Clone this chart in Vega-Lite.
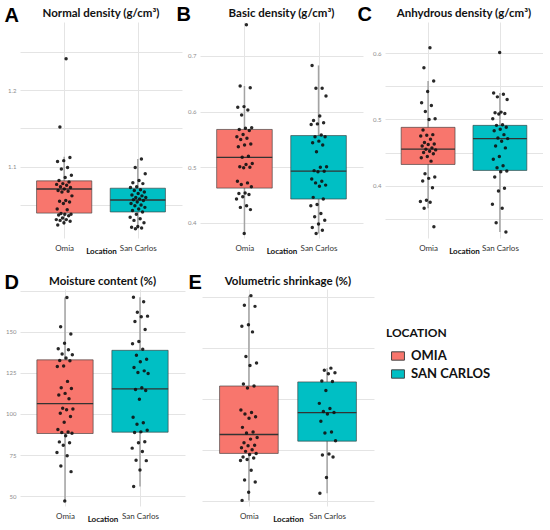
{
  "$schema": "https://vega.github.io/schema/vega-lite/v6.json",
  "background": "white",
  "padding": {"left": 4, "top": 4, "right": 0, "bottom": 0},
  "datasets": {
    "box": [
      {"p": "A", "loc": "Omia", "lo": 1.024, "q1": 1.0395, "med": 1.071, "q3": 1.0816, "hi": 1.113},
      {"p": "A", "loc": "San Carlos", "lo": 1.019, "q1": 1.041, "med": 1.0566, "q3": 1.072, "hi": 1.110},
      {"p": "B", "loc": "Omia", "lo": 0.381, "q1": 0.4626, "med": 0.518, "q3": 0.568, "hi": 0.646},
      {"p": "B", "loc": "San Carlos", "lo": 0.381, "q1": 0.443, "med": 0.493, "q3": 0.557, "hi": 0.683},
      {"p": "C", "loc": "Omia", "lo": 0.366, "q1": 0.432, "med": 0.455, "q3": 0.488, "hi": 0.558},
      {"p": "C", "loc": "San Carlos", "lo": 0.330, "q1": 0.423, "med": 0.471, "q3": 0.491, "hi": 0.540},
      {"p": "D", "loc": "Omia", "lo": 47, "q1": 88.1, "med": 106.3, "q3": 132.9, "hi": 170.8},
      {"p": "D", "loc": "San Carlos", "lo": 55.8, "q1": 88.9, "med": 115.3, "q3": 138.7, "hi": 171},
      {"p": "E", "loc": "Omia", "lo": 5.1, "q1": 14.3, "med": 18.0, "q3": 27.5, "hi": 45.2},
      {"p": "E", "loc": "San Carlos", "lo": 6.5, "q1": 16.7, "med": 22.3, "q3": 28.3, "hi": 31}
    ],
    "pts": [
      {"p":"A","loc":"Omia","v":1.241},{"p":"A","loc":"Omia","v":1.152},{"p":"A","loc":"Omia","v":1.112},{"p":"A","loc":"Omia","v":1.108},{"p":"A","loc":"Omia","v":1.107},{"p":"A","loc":"Omia","v":1.099},{"p":"A","loc":"Omia","v":1.097},{"p":"A","loc":"Omia","v":1.089},{"p":"A","loc":"Omia","v":1.086},{"p":"A","loc":"Omia","v":1.082},{"p":"A","loc":"Omia","v":1.080},{"p":"A","loc":"Omia","v":1.078},{"p":"A","loc":"Omia","v":1.077},{"p":"A","loc":"Omia","v":1.076},{"p":"A","loc":"Omia","v":1.074},{"p":"A","loc":"Omia","v":1.073},{"p":"A","loc":"Omia","v":1.071},{"p":"A","loc":"Omia","v":1.069},{"p":"A","loc":"Omia","v":1.068},{"p":"A","loc":"Omia","v":1.067},{"p":"A","loc":"Omia","v":1.062},{"p":"A","loc":"Omia","v":1.056},{"p":"A","loc":"Omia","v":1.055},{"p":"A","loc":"Omia","v":1.054},{"p":"A","loc":"Omia","v":1.052},{"p":"A","loc":"Omia","v":1.045},{"p":"A","loc":"Omia","v":1.044},{"p":"A","loc":"Omia","v":1.039},{"p":"A","loc":"Omia","v":1.038},{"p":"A","loc":"Omia","v":1.038},{"p":"A","loc":"Omia","v":1.037},{"p":"A","loc":"Omia","v":1.036},{"p":"A","loc":"Omia","v":1.033},{"p":"A","loc":"Omia","v":1.031},{"p":"A","loc":"Omia","v":1.031},{"p":"A","loc":"Omia","v":1.030},{"p":"A","loc":"Omia","v":1.029},{"p":"A","loc":"Omia","v":1.027},{"p":"A","loc":"Omia","v":1.024},
      {"p":"A","loc":"San Carlos","v":1.110},{"p":"A","loc":"San Carlos","v":1.099},{"p":"A","loc":"San Carlos","v":1.091},{"p":"A","loc":"San Carlos","v":1.082},{"p":"A","loc":"San Carlos","v":1.079},{"p":"A","loc":"San Carlos","v":1.078},{"p":"A","loc":"San Carlos","v":1.074},{"p":"A","loc":"San Carlos","v":1.073},{"p":"A","loc":"San Carlos","v":1.070},{"p":"A","loc":"San Carlos","v":1.069},{"p":"A","loc":"San Carlos","v":1.067},{"p":"A","loc":"San Carlos","v":1.065},{"p":"A","loc":"San Carlos","v":1.063},{"p":"A","loc":"San Carlos","v":1.062},{"p":"A","loc":"San Carlos","v":1.060},{"p":"A","loc":"San Carlos","v":1.060},{"p":"A","loc":"San Carlos","v":1.058},{"p":"A","loc":"San Carlos","v":1.057},{"p":"A","loc":"San Carlos","v":1.056},{"p":"A","loc":"San Carlos","v":1.054},{"p":"A","loc":"San Carlos","v":1.052},{"p":"A","loc":"San Carlos","v":1.050},{"p":"A","loc":"San Carlos","v":1.049},{"p":"A","loc":"San Carlos","v":1.047},{"p":"A","loc":"San Carlos","v":1.045},{"p":"A","loc":"San Carlos","v":1.043},{"p":"A","loc":"San Carlos","v":1.041},{"p":"A","loc":"San Carlos","v":1.038},{"p":"A","loc":"San Carlos","v":1.034},{"p":"A","loc":"San Carlos","v":1.032},{"p":"A","loc":"San Carlos","v":1.030},{"p":"A","loc":"San Carlos","v":1.027},{"p":"A","loc":"San Carlos","v":1.022},{"p":"A","loc":"San Carlos","v":1.021},{"p":"A","loc":"San Carlos","v":1.020},{"p":"A","loc":"San Carlos","v":1.019},
      {"p":"B","loc":"Omia","v":0.756},{"p":"B","loc":"Omia","v":0.646},{"p":"B","loc":"Omia","v":0.643},{"p":"B","loc":"Omia","v":0.609},{"p":"B","loc":"Omia","v":0.608},{"p":"B","loc":"Omia","v":0.603},{"p":"B","loc":"Omia","v":0.594},{"p":"B","loc":"Omia","v":0.571},{"p":"B","loc":"Omia","v":0.570},{"p":"B","loc":"Omia","v":0.568},{"p":"B","loc":"Omia","v":0.566},{"p":"B","loc":"Omia","v":0.559},{"p":"B","loc":"Omia","v":0.555},{"p":"B","loc":"Omia","v":0.552},{"p":"B","loc":"Omia","v":0.550},{"p":"B","loc":"Omia","v":0.542},{"p":"B","loc":"Omia","v":0.540},{"p":"B","loc":"Omia","v":0.537},{"p":"B","loc":"Omia","v":0.520},{"p":"B","loc":"Omia","v":0.518},{"p":"B","loc":"Omia","v":0.507},{"p":"B","loc":"Omia","v":0.505},{"p":"B","loc":"Omia","v":0.501},{"p":"B","loc":"Omia","v":0.500},{"p":"B","loc":"Omia","v":0.499},{"p":"B","loc":"Omia","v":0.475},{"p":"B","loc":"Omia","v":0.472},{"p":"B","loc":"Omia","v":0.469},{"p":"B","loc":"Omia","v":0.465},{"p":"B","loc":"Omia","v":0.454},{"p":"B","loc":"Omia","v":0.453},{"p":"B","loc":"Omia","v":0.451},{"p":"B","loc":"Omia","v":0.447},{"p":"B","loc":"Omia","v":0.443},{"p":"B","loc":"Omia","v":0.431},{"p":"B","loc":"Omia","v":0.428},{"p":"B","loc":"Omia","v":0.424},{"p":"B","loc":"Omia","v":0.381},
      {"p":"B","loc":"San Carlos","v":0.683},{"p":"B","loc":"San Carlos","v":0.642},{"p":"B","loc":"San Carlos","v":0.642},{"p":"B","loc":"San Carlos","v":0.628},{"p":"B","loc":"San Carlos","v":0.592},{"p":"B","loc":"San Carlos","v":0.584},{"p":"B","loc":"San Carlos","v":0.580},{"p":"B","loc":"San Carlos","v":0.578},{"p":"B","loc":"San Carlos","v":0.577},{"p":"B","loc":"San Carlos","v":0.558},{"p":"B","loc":"San Carlos","v":0.555},{"p":"B","loc":"San Carlos","v":0.555},{"p":"B","loc":"San Carlos","v":0.547},{"p":"B","loc":"San Carlos","v":0.544},{"p":"B","loc":"San Carlos","v":0.540},{"p":"B","loc":"San Carlos","v":0.528},{"p":"B","loc":"San Carlos","v":0.501},{"p":"B","loc":"San Carlos","v":0.500},{"p":"B","loc":"San Carlos","v":0.494},{"p":"B","loc":"San Carlos","v":0.493},{"p":"B","loc":"San Carlos","v":0.492},{"p":"B","loc":"San Carlos","v":0.479},{"p":"B","loc":"San Carlos","v":0.475},{"p":"B","loc":"San Carlos","v":0.472},{"p":"B","loc":"San Carlos","v":0.468},{"p":"B","loc":"San Carlos","v":0.466},{"p":"B","loc":"San Carlos","v":0.446},{"p":"B","loc":"San Carlos","v":0.443},{"p":"B","loc":"San Carlos","v":0.433},{"p":"B","loc":"San Carlos","v":0.431},{"p":"B","loc":"San Carlos","v":0.417},{"p":"B","loc":"San Carlos","v":0.411},{"p":"B","loc":"San Carlos","v":0.405},{"p":"B","loc":"San Carlos","v":0.398},{"p":"B","loc":"San Carlos","v":0.392},{"p":"B","loc":"San Carlos","v":0.387},{"p":"B","loc":"San Carlos","v":0.381},
      {"p":"C","loc":"Omia","v":0.608},{"p":"C","loc":"Omia","v":0.578},{"p":"C","loc":"Omia","v":0.558},{"p":"C","loc":"Omia","v":0.542},{"p":"C","loc":"Omia","v":0.525},{"p":"C","loc":"Omia","v":0.521},{"p":"C","loc":"Omia","v":0.512},{"p":"C","loc":"Omia","v":0.501},{"p":"C","loc":"Omia","v":0.500},{"p":"C","loc":"Omia","v":0.484},{"p":"C","loc":"Omia","v":0.477},{"p":"C","loc":"Omia","v":0.476},{"p":"C","loc":"Omia","v":0.475},{"p":"C","loc":"Omia","v":0.470},{"p":"C","loc":"Omia","v":0.465},{"p":"C","loc":"Omia","v":0.463},{"p":"C","loc":"Omia","v":0.462},{"p":"C","loc":"Omia","v":0.460},{"p":"C","loc":"Omia","v":0.457},{"p":"C","loc":"Omia","v":0.455},{"p":"C","loc":"Omia","v":0.454},{"p":"C","loc":"Omia","v":0.452},{"p":"C","loc":"Omia","v":0.450},{"p":"C","loc":"Omia","v":0.448},{"p":"C","loc":"Omia","v":0.444},{"p":"C","loc":"Omia","v":0.442},{"p":"C","loc":"Omia","v":0.437},{"p":"C","loc":"Omia","v":0.418},{"p":"C","loc":"Omia","v":0.413},{"p":"C","loc":"Omia","v":0.411},{"p":"C","loc":"Omia","v":0.407},{"p":"C","loc":"Omia","v":0.397},{"p":"C","loc":"Omia","v":0.378},{"p":"C","loc":"Omia","v":0.376},{"p":"C","loc":"Omia","v":0.375},{"p":"C","loc":"Omia","v":0.366},{"p":"C","loc":"Omia","v":0.338},
      {"p":"C","loc":"San Carlos","v":0.601},{"p":"C","loc":"San Carlos","v":0.540},{"p":"C","loc":"San Carlos","v":0.538},{"p":"C","loc":"San Carlos","v":0.534},{"p":"C","loc":"San Carlos","v":0.530},{"p":"C","loc":"San Carlos","v":0.511},{"p":"C","loc":"San Carlos","v":0.510},{"p":"C","loc":"San Carlos","v":0.509},{"p":"C","loc":"San Carlos","v":0.508},{"p":"C","loc":"San Carlos","v":0.501},{"p":"C","loc":"San Carlos","v":0.492},{"p":"C","loc":"San Carlos","v":0.491},{"p":"C","loc":"San Carlos","v":0.488},{"p":"C","loc":"San Carlos","v":0.485},{"p":"C","loc":"San Carlos","v":0.483},{"p":"C","loc":"San Carlos","v":0.477},{"p":"C","loc":"San Carlos","v":0.472},{"p":"C","loc":"San Carlos","v":0.471},{"p":"C","loc":"San Carlos","v":0.467},{"p":"C","loc":"San Carlos","v":0.460},{"p":"C","loc":"San Carlos","v":0.457},{"p":"C","loc":"San Carlos","v":0.444},{"p":"C","loc":"San Carlos","v":0.440},{"p":"C","loc":"San Carlos","v":0.430},{"p":"C","loc":"San Carlos","v":0.427},{"p":"C","loc":"San Carlos","v":0.422},{"p":"C","loc":"San Carlos","v":0.421},{"p":"C","loc":"San Carlos","v":0.413},{"p":"C","loc":"San Carlos","v":0.396},{"p":"C","loc":"San Carlos","v":0.392},{"p":"C","loc":"San Carlos","v":0.372},{"p":"C","loc":"San Carlos","v":0.366},{"p":"C","loc":"San Carlos","v":0.344},{"p":"C","loc":"San Carlos","v":0.330},
      {"p":"D","loc":"Omia","v":170.8},{"p":"D","loc":"Omia","v":153},{"p":"D","loc":"Omia","v":148.6},{"p":"D","loc":"Omia","v":143},{"p":"D","loc":"Omia","v":139.7},{"p":"D","loc":"Omia","v":139},{"p":"D","loc":"Omia","v":136.5},{"p":"D","loc":"Omia","v":136},{"p":"D","loc":"Omia","v":134},{"p":"D","loc":"Omia","v":132.5},{"p":"D","loc":"Omia","v":132.3},{"p":"D","loc":"Omia","v":129.2},{"p":"D","loc":"Omia","v":128.8},{"p":"D","loc":"Omia","v":119.8},{"p":"D","loc":"Omia","v":115.9},{"p":"D","loc":"Omia","v":115.5},{"p":"D","loc":"Omia","v":112.5},{"p":"D","loc":"Omia","v":111.5},{"p":"D","loc":"Omia","v":109.3},{"p":"D","loc":"Omia","v":103.4},{"p":"D","loc":"Omia","v":103},{"p":"D","loc":"Omia","v":102.6},{"p":"D","loc":"Omia","v":100.4},{"p":"D","loc":"Omia","v":98.4},{"p":"D","loc":"Omia","v":95},{"p":"D","loc":"Omia","v":90.5},{"p":"D","loc":"Omia","v":89},{"p":"D","loc":"Omia","v":88.7},{"p":"D","loc":"Omia","v":88.3},{"p":"D","loc":"Omia","v":86.7},{"p":"D","loc":"Omia","v":83},{"p":"D","loc":"Omia","v":82.5},{"p":"D","loc":"Omia","v":81},{"p":"D","loc":"Omia","v":76.6},{"p":"D","loc":"Omia","v":74.6},{"p":"D","loc":"Omia","v":68.3},{"p":"D","loc":"Omia","v":64.9},{"p":"D","loc":"Omia","v":47},
      {"p":"D","loc":"San Carlos","v":171},{"p":"D","loc":"San Carlos","v":168.3},{"p":"D","loc":"San Carlos","v":161.9},{"p":"D","loc":"San Carlos","v":159.5},{"p":"D","loc":"San Carlos","v":159.1},{"p":"D","loc":"San Carlos","v":156.2},{"p":"D","loc":"San Carlos","v":151.4},{"p":"D","loc":"San Carlos","v":144},{"p":"D","loc":"San Carlos","v":142.7},{"p":"D","loc":"San Carlos","v":139.3},{"p":"D","loc":"San Carlos","v":135.7},{"p":"D","loc":"San Carlos","v":133.3},{"p":"D","loc":"San Carlos","v":131.7},{"p":"D","loc":"San Carlos","v":128.3},{"p":"D","loc":"San Carlos","v":126.2},{"p":"D","loc":"San Carlos","v":125.2},{"p":"D","loc":"San Carlos","v":124.6},{"p":"D","loc":"San Carlos","v":115.9},{"p":"D","loc":"San Carlos","v":114.9},{"p":"D","loc":"San Carlos","v":114.3},{"p":"D","loc":"San Carlos","v":108.9},{"p":"D","loc":"San Carlos","v":98},{"p":"D","loc":"San Carlos","v":94.6},{"p":"D","loc":"San Carlos","v":93.7},{"p":"D","loc":"San Carlos","v":90.1},{"p":"D","loc":"San Carlos","v":89.1},{"p":"D","loc":"San Carlos","v":88.7},{"p":"D","loc":"San Carlos","v":83.1},{"p":"D","loc":"San Carlos","v":82.5},{"p":"D","loc":"San Carlos","v":79.2},{"p":"D","loc":"San Carlos","v":77.2},{"p":"D","loc":"San Carlos","v":71.8},{"p":"D","loc":"San Carlos","v":71.6},{"p":"D","loc":"San Carlos","v":65.9},{"p":"D","loc":"San Carlos","v":55.8},
      {"p":"E","loc":"Omia","v":45.2},{"p":"E","loc":"Omia","v":43.3},{"p":"E","loc":"Omia","v":43.1},{"p":"E","loc":"Omia","v":39.5},{"p":"E","loc":"Omia","v":39.2},{"p":"E","loc":"Omia","v":38.1},{"p":"E","loc":"Omia","v":33.3},{"p":"E","loc":"Omia","v":32},{"p":"E","loc":"Omia","v":31.5},{"p":"E","loc":"Omia","v":27.9},{"p":"E","loc":"Omia","v":27.5},{"p":"E","loc":"Omia","v":27.1},{"p":"E","loc":"Omia","v":22.8},{"p":"E","loc":"Omia","v":22.3},{"p":"E","loc":"Omia","v":22},{"p":"E","loc":"Omia","v":21.5},{"p":"E","loc":"Omia","v":21.2},{"p":"E","loc":"Omia","v":19.4},{"p":"E","loc":"Omia","v":18.5},{"p":"E","loc":"Omia","v":18.3},{"p":"E","loc":"Omia","v":17.4},{"p":"E","loc":"Omia","v":17.1},{"p":"E","loc":"Omia","v":16.4},{"p":"E","loc":"Omia","v":15.9},{"p":"E","loc":"Omia","v":15.8},{"p":"E","loc":"Omia","v":15.4},{"p":"E","loc":"Omia","v":15},{"p":"E","loc":"Omia","v":14.7},{"p":"E","loc":"Omia","v":14.3},{"p":"E","loc":"Omia","v":14.1},{"p":"E","loc":"Omia","v":13.6},{"p":"E","loc":"Omia","v":13.4},{"p":"E","loc":"Omia","v":13.1},{"p":"E","loc":"Omia","v":12.9},{"p":"E","loc":"Omia","v":11},{"p":"E","loc":"Omia","v":9.1},{"p":"E","loc":"Omia","v":8.7},{"p":"E","loc":"Omia","v":6.7},{"p":"E","loc":"Omia","v":5.1},
      {"p":"E","loc":"San Carlos","v":31},{"p":"E","loc":"San Carlos","v":30.6},{"p":"E","loc":"San Carlos","v":30.1},{"p":"E","loc":"San Carlos","v":29.9},{"p":"E","loc":"San Carlos","v":28.5},{"p":"E","loc":"San Carlos","v":28.4},{"p":"E","loc":"San Carlos","v":26.6},{"p":"E","loc":"San Carlos","v":24.1},{"p":"E","loc":"San Carlos","v":23.1},{"p":"E","loc":"San Carlos","v":22.5},{"p":"E","loc":"San Carlos","v":22.3},{"p":"E","loc":"San Carlos","v":22},{"p":"E","loc":"San Carlos","v":20.6},{"p":"E","loc":"San Carlos","v":18.5},{"p":"E","loc":"San Carlos","v":18.3},{"p":"E","loc":"San Carlos","v":16.8},{"p":"E","loc":"San Carlos","v":14.2},{"p":"E","loc":"San Carlos","v":14},{"p":"E","loc":"San Carlos","v":13.6},{"p":"E","loc":"San Carlos","v":9.6},{"p":"E","loc":"San Carlos","v":6.5}
    ]
  },
  "config": {
    "view": {"stroke": null},
    "font": "Lato",
    "title": {"fontSize": 11.5, "fontWeight": "bold", "font": "Lato", "color": "#111111"},
    "axis": {"grid": true, "gridColor": "#e4e4e4", "gridWidth": 1, "domain": false, "ticks": false},
    "axisY": {"labelFontSize": 6, "labelColor": "#8c8c8c", "labelPadding": 4, "titleAngle": 0, "titleFont": "Liberation Sans", "titleFontSize": 20, "titleFontWeight": "bold", "titleColor": "#000000", "titleAlign": "left", "titleBaseline": "top"},
    "axisX": {"labelFontSize": 8, "labelColor": "#333333", "labelPadding": 6, "titleFontSize": 8, "titleFontWeight": "bold", "titleColor": "#111111", "titleBaseline": "top", "titleY": 9},
    "legend": {"orient": "none", "legendX": 366, "legendY": 306, "padding": 0, "titleFontSize": 12, "titleFontWeight": "bold", "titleColor": "#111111", "titlePadding": 9, "labelFontSize": 13, "labelFontWeight": "bold", "labelColor": "#111111", "labelOffset": 6, "symbolType": "M-1,-0.65H1V0.65H-1Z", "symbolSize": 166, "symbolStrokeColor": "#444444", "symbolStrokeWidth": 1, "symbolOpacity": 1, "symbolOffset": 5, "rowPadding": 4}
  },
  "vconcat": [
    {
      "spacing": -6,
      "hconcat": [
        {
          "width": 162, "height": 216,
          "title": {"text": "Normal density (g/cm³)", "offset": -14},
          "layer": [
            {"data": {"name": "box"}, "transform": [{"filter": "datum.p == 'A'"}, {"calculate": "datum.loc == 'Omia' ? 1 : 2", "as": "pos"}],
             "mark": {"type": "rule", "color": "#a3a3a3", "strokeWidth": 1.5},
             "encoding": {
               "x": {"field": "pos", "type": "quantitative", "scale": {"domain": [0.4, 2.6], "nice": false, "zero": false}, "axis": {"values": [1, 2], "labelExpr": "datum.value == 1 ? 'Omia' : 'San Carlos'", "title": "Location"}},
               "y": {"field": "lo", "type": "quantitative", "scale": {"domain": [1.007, 1.289], "nice": false, "zero": false}, "axis": {"title": "A", "titleX": -16, "titleY": -17, "values": [1.05, 1.1, 1.15, 1.2, 1.25], "labelExpr": "indexof([1.1, 1.2], datum.value) >= 0 ? format(datum.value, '.1f') : ''"}},
               "y2": {"field": "hi"}}},
            {"data": {"name": "box"}, "transform": [{"filter": "datum.p == 'A'"}, {"calculate": "(datum.loc == 'Omia' ? 1 : 2) - 0.375", "as": "xa"}, {"calculate": "(datum.loc == 'Omia' ? 1 : 2) + 0.375", "as": "xb"}],
             "mark": {"type": "rect", "stroke": "#3c3c3c", "strokeWidth": 0.8, "strokeOpacity": 0.8, "opacity": 1},
             "encoding": {
               "x": {"field": "xa", "type": "quantitative", "scale": {"domain": [0.4, 2.6], "nice": false, "zero": false}},
               "x2": {"field": "xb"},
               "y": {"field": "q1", "type": "quantitative", "scale": {"domain": [1.007, 1.289], "nice": false, "zero": false}},
               "y2": {"field": "q3"},
               "color": {"field": "loc", "type": "nominal", "title": "LOCATION", "scale": {"domain": ["Omia", "San Carlos"], "range": ["#F8766D", "#00BFC4"]}, "legend": {"labelExpr": "upper(datum.label)"}}}},
            {"data": {"name": "box"}, "transform": [{"filter": "datum.p == 'A'"}, {"calculate": "(datum.loc == 'Omia' ? 1 : 2) - 0.375", "as": "xa"}, {"calculate": "(datum.loc == 'Omia' ? 1 : 2) + 0.375", "as": "xb"}],
             "mark": {"type": "rule", "color": "#333333", "strokeWidth": 1.3},
             "encoding": {
               "x": {"field": "xa", "type": "quantitative", "scale": {"domain": [0.4, 2.6], "nice": false, "zero": false}},
               "x2": {"field": "xb"},
               "y": {"field": "med", "type": "quantitative", "scale": {"domain": [1.007, 1.289], "nice": false, "zero": false}}}},
            {"data": {"name": "pts"}, "transform": [{"filter": "datum.p == 'A'"}, {"window": [{"op": "row_number", "as": "rn"}]}, {"calculate": "(datum.loc == 'Omia' ? 1 : 2) + ((datum.rn * 0.6180339887) % 1 - 0.5) * 0.22", "as": "jx"}],
             "mark": {"type": "circle", "size": 12, "color": "#111111", "opacity": 0.9},
             "encoding": {
               "x": {"field": "jx", "type": "quantitative", "scale": {"domain": [0.4, 2.6], "nice": false, "zero": false}},
               "y": {"field": "v", "type": "quantitative", "scale": {"domain": [1.007, 1.289], "nice": false, "zero": false}}}}
          ]
        },
        {
          "width": 163, "height": 216,
          "title": {"text": "Basic density (g/cm³)", "offset": -15},
          "layer": [
            {"data": {"name": "box"}, "transform": [{"filter": "datum.p == 'B'"}, {"calculate": "datum.loc == 'Omia' ? 1 : 2", "as": "pos"}],
             "mark": {"type": "rule", "color": "#a3a3a3", "strokeWidth": 1.5},
             "encoding": {
               "x": {"field": "pos", "type": "quantitative", "scale": {"domain": [0.4, 2.6], "nice": false, "zero": false}, "axis": {"values": [1, 2], "labelExpr": "datum.value == 1 ? 'Omia' : 'San Carlos'", "title": "Location"}},
               "y": {"field": "lo", "type": "quantitative", "scale": {"domain": [0.373, 0.761], "nice": false, "zero": false}, "axis": {"title": "B", "titleX": -24, "titleY": -18, "values": [0.4, 0.45, 0.5, 0.55, 0.6, 0.65, 0.7, 0.75], "labelExpr": "indexof([0.4, 0.5, 0.6, 0.7], datum.value) >= 0 ? format(datum.value, '.1f') : ''"}},
               "y2": {"field": "hi"}}},
            {"data": {"name": "box"}, "transform": [{"filter": "datum.p == 'B'"}, {"calculate": "(datum.loc == 'Omia' ? 1 : 2) - 0.375", "as": "xa"}, {"calculate": "(datum.loc == 'Omia' ? 1 : 2) + 0.375", "as": "xb"}],
             "mark": {"type": "rect", "stroke": "#3c3c3c", "strokeWidth": 0.8, "strokeOpacity": 0.8, "opacity": 1},
             "encoding": {
               "x": {"field": "xa", "type": "quantitative", "scale": {"domain": [0.4, 2.6], "nice": false, "zero": false}},
               "x2": {"field": "xb"},
               "y": {"field": "q1", "type": "quantitative", "scale": {"domain": [0.373, 0.761], "nice": false, "zero": false}},
               "y2": {"field": "q3"},
               "color": {"field": "loc", "type": "nominal", "title": "LOCATION", "scale": {"domain": ["Omia", "San Carlos"], "range": ["#F8766D", "#00BFC4"]}, "legend": {"labelExpr": "upper(datum.label)"}}}},
            {"data": {"name": "box"}, "transform": [{"filter": "datum.p == 'B'"}, {"calculate": "(datum.loc == 'Omia' ? 1 : 2) - 0.375", "as": "xa"}, {"calculate": "(datum.loc == 'Omia' ? 1 : 2) + 0.375", "as": "xb"}],
             "mark": {"type": "rule", "color": "#333333", "strokeWidth": 1.3},
             "encoding": {
               "x": {"field": "xa", "type": "quantitative", "scale": {"domain": [0.4, 2.6], "nice": false, "zero": false}},
               "x2": {"field": "xb"},
               "y": {"field": "med", "type": "quantitative", "scale": {"domain": [0.373, 0.761], "nice": false, "zero": false}}}},
            {"data": {"name": "pts"}, "transform": [{"filter": "datum.p == 'B'"}, {"window": [{"op": "row_number", "as": "rn"}]}, {"calculate": "(datum.loc == 'Omia' ? 1 : 2) + ((datum.rn * 0.6180339887) % 1 - 0.5) * 0.22", "as": "jx"}],
             "mark": {"type": "circle", "size": 12, "color": "#111111", "opacity": 0.9},
             "encoding": {
               "x": {"field": "jx", "type": "quantitative", "scale": {"domain": [0.4, 2.6], "nice": false, "zero": false}},
               "y": {"field": "v", "type": "quantitative", "scale": {"domain": [0.373, 0.761], "nice": false, "zero": false}}}}
          ]
        },
        {
          "width": 158, "height": 216,
          "title": {"text": "Anhydrous density (g/cm³)", "offset": -15},
          "layer": [
            {"data": {"name": "box"}, "transform": [{"filter": "datum.p == 'C'"}, {"calculate": "datum.loc == 'Omia' ? 1 : 2", "as": "pos"}],
             "mark": {"type": "rule", "color": "#a3a3a3", "strokeWidth": 1.5},
             "encoding": {
               "x": {"field": "pos", "type": "quantitative", "scale": {"domain": [0.4, 2.6], "nice": false, "zero": false}, "axis": {"values": [1, 2], "labelExpr": "datum.value == 1 ? 'Omia' : 'San Carlos'", "title": "Location"}},
               "y": {"field": "lo", "type": "quantitative", "scale": {"domain": [0.321, 0.647], "nice": false, "zero": false}, "axis": {"title": "C", "titleX": -28, "titleY": -18, "values": [0.35, 0.4, 0.45, 0.5, 0.55, 0.6], "labelExpr": "indexof([0.4, 0.5, 0.6], datum.value) >= 0 ? format(datum.value, '.1f') : ''"}},
               "y2": {"field": "hi"}}},
            {"data": {"name": "box"}, "transform": [{"filter": "datum.p == 'C'"}, {"calculate": "(datum.loc == 'Omia' ? 1 : 2) - 0.375", "as": "xa"}, {"calculate": "(datum.loc == 'Omia' ? 1 : 2) + 0.375", "as": "xb"}],
             "mark": {"type": "rect", "stroke": "#3c3c3c", "strokeWidth": 0.8, "strokeOpacity": 0.8, "opacity": 1},
             "encoding": {
               "x": {"field": "xa", "type": "quantitative", "scale": {"domain": [0.4, 2.6], "nice": false, "zero": false}},
               "x2": {"field": "xb"},
               "y": {"field": "q1", "type": "quantitative", "scale": {"domain": [0.321, 0.647], "nice": false, "zero": false}},
               "y2": {"field": "q3"},
               "color": {"field": "loc", "type": "nominal", "title": "LOCATION", "scale": {"domain": ["Omia", "San Carlos"], "range": ["#F8766D", "#00BFC4"]}, "legend": {"labelExpr": "upper(datum.label)"}}}},
            {"data": {"name": "box"}, "transform": [{"filter": "datum.p == 'C'"}, {"calculate": "(datum.loc == 'Omia' ? 1 : 2) - 0.375", "as": "xa"}, {"calculate": "(datum.loc == 'Omia' ? 1 : 2) + 0.375", "as": "xb"}],
             "mark": {"type": "rule", "color": "#333333", "strokeWidth": 1.3},
             "encoding": {
               "x": {"field": "xa", "type": "quantitative", "scale": {"domain": [0.4, 2.6], "nice": false, "zero": false}},
               "x2": {"field": "xb"},
               "y": {"field": "med", "type": "quantitative", "scale": {"domain": [0.321, 0.647], "nice": false, "zero": false}}}},
            {"data": {"name": "pts"}, "transform": [{"filter": "datum.p == 'C'"}, {"window": [{"op": "row_number", "as": "rn"}]}, {"calculate": "(datum.loc == 'Omia' ? 1 : 2) + ((datum.rn * 0.6180339887) % 1 - 0.5) * 0.22", "as": "jx"}],
             "mark": {"type": "circle", "size": 12, "color": "#111111", "opacity": 0.9},
             "encoding": {
               "x": {"field": "jx", "type": "quantitative", "scale": {"domain": [0.4, 2.6], "nice": false, "zero": false}},
               "y": {"field": "v", "type": "quantitative", "scale": {"domain": [0.321, 0.647], "nice": false, "zero": false}}}}
          ]
        }
      ]
    },
    {
      "spacing": 3,
      "hconcat": [
        {
          "width": 165, "height": 217,
          "title": {"text": "Moisture content (%)", "offset": -15},
          "layer": [
            {"data": {"name": "box"}, "transform": [{"filter": "datum.p == 'D'"}, {"calculate": "datum.loc == 'Omia' ? 1 : 2", "as": "pos"}],
             "mark": {"type": "rule", "color": "#a3a3a3", "strokeWidth": 1.5},
             "encoding": {
               "x": {"field": "pos", "type": "quantitative", "scale": {"domain": [0.4, 2.6], "nice": false, "zero": false}, "axis": {"values": [1, 2], "labelExpr": "datum.value == 1 ? 'Omia' : 'San Carlos'", "title": "Location"}},
               "y": {"field": "lo", "type": "quantitative", "scale": {"domain": [44, 176], "nice": false, "zero": false}, "axis": {"title": "D", "titleX": -16, "titleY": -17, "values": [50, 62.5, 75, 87.5, 100, 112.5, 125, 137.5, 150, 162.5, 175], "labelExpr": "indexof([50, 75, 100, 125, 150], datum.value) >= 0 ? format(datum.value, 'd') : ''"}},
               "y2": {"field": "hi"}}},
            {"data": {"name": "box"}, "transform": [{"filter": "datum.p == 'D'"}, {"calculate": "(datum.loc == 'Omia' ? 1 : 2) - 0.375", "as": "xa"}, {"calculate": "(datum.loc == 'Omia' ? 1 : 2) + 0.375", "as": "xb"}],
             "mark": {"type": "rect", "stroke": "#3c3c3c", "strokeWidth": 0.8, "strokeOpacity": 0.8, "opacity": 1},
             "encoding": {
               "x": {"field": "xa", "type": "quantitative", "scale": {"domain": [0.4, 2.6], "nice": false, "zero": false}},
               "x2": {"field": "xb"},
               "y": {"field": "q1", "type": "quantitative", "scale": {"domain": [44, 176], "nice": false, "zero": false}},
               "y2": {"field": "q3"},
               "color": {"field": "loc", "type": "nominal", "title": "LOCATION", "scale": {"domain": ["Omia", "San Carlos"], "range": ["#F8766D", "#00BFC4"]}, "legend": {"labelExpr": "upper(datum.label)"}}}},
            {"data": {"name": "box"}, "transform": [{"filter": "datum.p == 'D'"}, {"calculate": "(datum.loc == 'Omia' ? 1 : 2) - 0.375", "as": "xa"}, {"calculate": "(datum.loc == 'Omia' ? 1 : 2) + 0.375", "as": "xb"}],
             "mark": {"type": "rule", "color": "#333333", "strokeWidth": 1.3},
             "encoding": {
               "x": {"field": "xa", "type": "quantitative", "scale": {"domain": [0.4, 2.6], "nice": false, "zero": false}},
               "x2": {"field": "xb"},
               "y": {"field": "med", "type": "quantitative", "scale": {"domain": [44, 176], "nice": false, "zero": false}}}},
            {"data": {"name": "pts"}, "transform": [{"filter": "datum.p == 'D'"}, {"window": [{"op": "row_number", "as": "rn"}]}, {"calculate": "(datum.loc == 'Omia' ? 1 : 2) + ((datum.rn * 0.6180339887) % 1 - 0.5) * 0.22", "as": "jx"}],
             "mark": {"type": "circle", "size": 12, "color": "#111111", "opacity": 0.9},
             "encoding": {
               "x": {"field": "jx", "type": "quantitative", "scale": {"domain": [0.4, 2.6], "nice": false, "zero": false}},
               "y": {"field": "v", "type": "quantitative", "scale": {"domain": [44, 176], "nice": false, "zero": false}}}}
          ]
        },
        {
          "width": 172, "height": 217,
          "title": {"text": "Volumetric shrinkage (%)", "offset": -15},
          "layer": [
            {"data": {"name": "box"}, "transform": [{"filter": "datum.p == 'E'"}, {"calculate": "datum.loc == 'Omia' ? 1 : 2", "as": "pos"}],
             "mark": {"type": "rule", "color": "#a3a3a3", "strokeWidth": 1.5},
             "encoding": {
               "x": {"field": "pos", "type": "quantitative", "scale": {"domain": [0.4, 2.6], "nice": false, "zero": false}, "axis": {"values": [1, 2], "labelExpr": "datum.value == 1 ? 'Omia' : 'San Carlos'", "title": "Location"}},
               "y": {"field": "lo", "type": "quantitative", "scale": {"domain": [4, 46.5], "nice": false, "zero": false}, "axis": {"title": "E", "titleX": -14, "titleY": -17, "values": [5, 10, 15, 20, 25, 30, 35, 40, 45], "labelExpr": "indexof([10, 20, 30, 40], datum.value) >= 0 ? format(datum.value, 'd') : ''"}},
               "y2": {"field": "hi"}}},
            {"data": {"name": "box"}, "transform": [{"filter": "datum.p == 'E'"}, {"calculate": "(datum.loc == 'Omia' ? 1 : 2) - 0.375", "as": "xa"}, {"calculate": "(datum.loc == 'Omia' ? 1 : 2) + 0.375", "as": "xb"}],
             "mark": {"type": "rect", "stroke": "#3c3c3c", "strokeWidth": 0.8, "strokeOpacity": 0.8, "opacity": 1},
             "encoding": {
               "x": {"field": "xa", "type": "quantitative", "scale": {"domain": [0.4, 2.6], "nice": false, "zero": false}},
               "x2": {"field": "xb"},
               "y": {"field": "q1", "type": "quantitative", "scale": {"domain": [4, 46.5], "nice": false, "zero": false}},
               "y2": {"field": "q3"},
               "color": {"field": "loc", "type": "nominal", "title": "LOCATION", "scale": {"domain": ["Omia", "San Carlos"], "range": ["#F8766D", "#00BFC4"]}, "legend": {"labelExpr": "upper(datum.label)"}}}},
            {"data": {"name": "box"}, "transform": [{"filter": "datum.p == 'E'"}, {"calculate": "(datum.loc == 'Omia' ? 1 : 2) - 0.375", "as": "xa"}, {"calculate": "(datum.loc == 'Omia' ? 1 : 2) + 0.375", "as": "xb"}],
             "mark": {"type": "rule", "color": "#333333", "strokeWidth": 1.3},
             "encoding": {
               "x": {"field": "xa", "type": "quantitative", "scale": {"domain": [0.4, 2.6], "nice": false, "zero": false}},
               "x2": {"field": "xb"},
               "y": {"field": "med", "type": "quantitative", "scale": {"domain": [4, 46.5], "nice": false, "zero": false}}}},
            {"data": {"name": "pts"}, "transform": [{"filter": "datum.p == 'E'"}, {"window": [{"op": "row_number", "as": "rn"}]}, {"calculate": "(datum.loc == 'Omia' ? 1 : 2) + ((datum.rn * 0.6180339887) % 1 - 0.5) * 0.22", "as": "jx"}],
             "mark": {"type": "circle", "size": 12, "color": "#111111", "opacity": 0.9},
             "encoding": {
               "x": {"field": "jx", "type": "quantitative", "scale": {"domain": [0.4, 2.6], "nice": false, "zero": false}},
               "y": {"field": "v", "type": "quantitative", "scale": {"domain": [4, 46.5], "nice": false, "zero": false}}}}
          ]
        }
      ]
    }
  ],
  "spacing": 17
}
